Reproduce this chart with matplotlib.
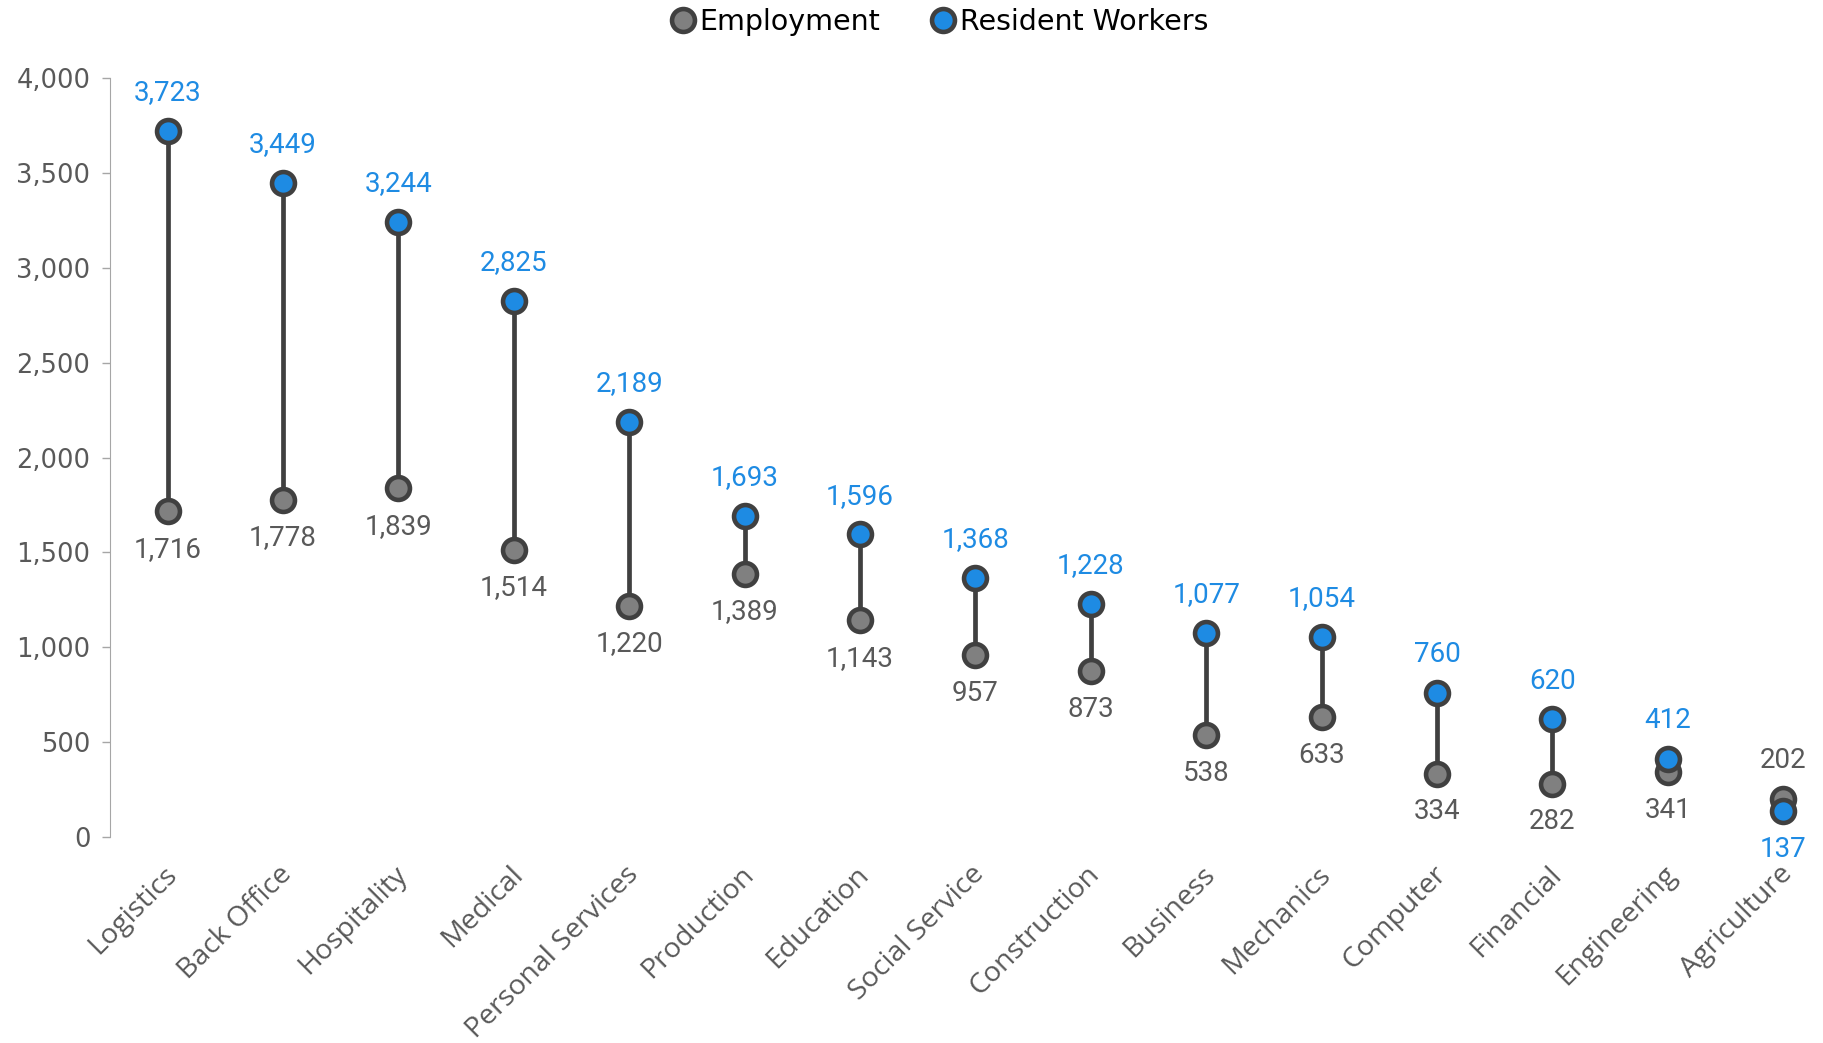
import matplotlib
matplotlib.use("Agg")
import matplotlib.pyplot as plt
import matplotlib.transforms as mtransforms
from matplotlib.lines import Line2D

# data
categories = ["Logistics", "Back Office", "Hospitality", "Medical", "Personal Services",
              "Production", "Education", "Social Service", "Construction", "Business",
              "Mechanics", "Computer", "Financial", "Engineering", "Agriculture"]
employment = [1716, 1778, 1839, 1514, 1220, 1389, 1143, 957, 873, 538, 633, 334, 282, 341, 202]
resident = [3723, 3449, 3244, 2825, 2189, 1693, 1596, 1368, 1228, 1077, 1054, 760, 620, 412, 137]
y_ticks = [0, 500, 1000, 1500, 2000, 2500, 3000, 3500, 4000]

BLUE = "#1E8BE3"
GRAY_FILL = "#808080"
DARK = "#404040"
TEXT_GRAY = "#595959"
MS = 16.5
MEW = 3.3

fig = plt.figure(figsize=(18.23, 10.43), dpi=100)
ax = fig.add_axes([0.0603, 0.1975, 0.9495, 0.7275])

x = list(range(len(categories)))

# connecting lines
for xi, e, r in zip(x, employment, resident):
    ax.plot([xi, xi], [e, r], color=DARK, lw=3.4, zorder=1, solid_capstyle="butt")

ax.plot(x, employment, "o", ms=MS, mfc=GRAY_FILL, mec=DARK, mew=MEW, ls="none", zorder=2)
ax.plot(x, resident, "o", ms=MS, mfc=BLUE, mec=DARK, mew=MEW, ls="none", zorder=3)

# value labels: higher value above, lower below
off = 27.5
for xi, e, r in zip(x, employment, resident):
    for val, col, is_top in ((e, TEXT_GRAY, e > r), (r, BLUE, r >= e)):
        ax.annotate(f"{val:,}", (xi, val), xytext=(0, off if is_top else -off),
                    textcoords="offset points", ha="center", va="center",
                    fontsize=20, color=col, family=["Roboto", "DejaVu Sans"])

ax.set_xlim(-0.5, 14.5)
ax.set_ylim(0, 4000)
ax.set_yticks(y_ticks)
ax.set_yticklabels([f"{v:,}" for v in y_ticks], family="DejaVu Sans", fontsize=18.5,
                   color=TEXT_GRAY)
ax.tick_params(axis="y", length=6, width=1, color="#A6A6A6", pad=8)

ax.set_xticks(x)
ax.set_xticklabels(categories, rotation=45, ha="right", va="center", rotation_mode="anchor",
                   fontsize=20.5, color=TEXT_GRAY, family=["Open Sans", "DejaVu Sans"])
ax.tick_params(axis="x", length=0, pad=24)
shift = mtransforms.ScaledTranslation(5 / 100, 0, fig.dpi_scale_trans)
for lab in ax.get_xticklabels():
    lab.set_transform(lab.get_transform() + shift)

for s in ("top", "right", "bottom"):
    ax.spines[s].set_visible(False)
ax.spines["left"].set_color("#A6A6A6")

handles = [
    Line2D([], [], marker="o", ls="none", ms=MS, mfc=GRAY_FILL, mec=DARK, mew=MEW, label="Employment"),
    Line2D([], [], marker="o", ls="none", ms=MS, mfc=BLUE, mec=DARK, mew=MEW, label="Resident Workers"),
]
fig.legend(handles=handles, loc="center", bbox_to_anchor=(0.514, 0.979), ncol=2, frameon=False,
           handletextpad=0.0, columnspacing=1.6, handlelength=1.2,
           prop={"family": "DejaVu Sans", "size": 20.5})

fig.savefig("out.png", dpi=100)
